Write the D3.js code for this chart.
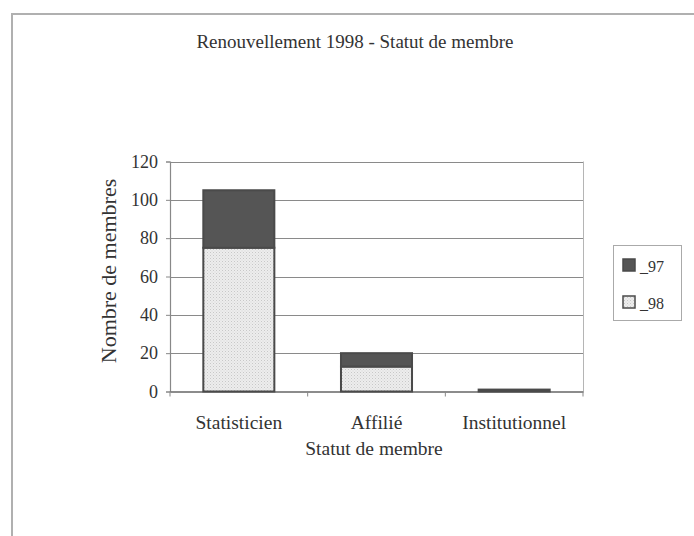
<!DOCTYPE html>
<html><head><meta charset="utf-8">
<script src="https://cdn.jsdelivr.net/npm/d3@7"></script>
<style>html,body{margin:0;padding:0;background:#fff;}svg{display:block;}</style>
</head><body>
<svg id="chart" width="694" height="536"></svg>
<script>
const categories = ["Statisticien", "Affilié", "Institutionnel"];
const seriesNames = ["_97", "_98"];
const values98 = [75, 13, 0];
const values97 = [30, 7, 1];
const yTicks = [0, 20, 40, 60, 80, 100, 120];
const titleText = "Renouvellement 1998 - Statut de membre";
const xTitle = "Statut de membre";
const yTitle = "Nombre de membres";

(function () {
const svg = d3.select("#chart");
const font = "'Liberation Serif','Times New Roman',serif";
const textCol = "#333";

const defs = svg.append("defs");
const pat = defs.append("pattern").attr("id", "dots").attr("patternUnits", "userSpaceOnUse")
  .attr("width", 3).attr("height", 3);
pat.append("rect").attr("width", 3).attr("height", 3).attr("fill", "#ededed");
pat.append("rect").attr("x", 0).attr("y", 0).attr("width", 1).attr("height", 1).attr("fill", "#c8c8c8");
pat.append("rect").attr("x", 1.5).attr("y", 1.5).attr("width", 1).attr("height", 1).attr("fill", "#d6d6d6");

svg.append("path").attr("d", "M12,540 L12,14 L700,14").attr("fill", "none")
  .attr("stroke", "#b0b0b0").attr("stroke-width", 2);

const pLeft = 170, pRight = 583, pTop = 161.5, pBottom = 391.5;
const x = d3.scaleBand().domain(categories).range([pLeft, pRight]).paddingInner(0.484).paddingOuter(0.242);
const y = d3.scaleLinear().domain([0, 120]).range([pBottom, pTop]);

svg.append("g").selectAll("line").data(yTicks.filter(d => d > 0)).join("line")
  .attr("x1", pLeft).attr("x2", pRight).attr("y1", d => Math.round(y(d)) + 0.5).attr("y2", d => Math.round(y(d)) + 0.5)
  .attr("stroke", "#8a8a8a").attr("stroke-width", 1.2);
svg.append("line").attr("x1", pRight + 0.5).attr("x2", pRight + 0.5).attr("y1", pTop).attr("y2", pBottom)
  .attr("stroke", "#b5b5b5").attr("stroke-width", 1);

const yAxis = svg.append("g").attr("transform", `translate(${pLeft},0)`)
  .call(d3.axisLeft(y).tickValues(yTicks).tickSize(4).tickPadding(8));
yAxis.attr("font-family", font);
yAxis.select(".domain").attr("stroke", "#888").attr("stroke-width", 1.2);
yAxis.selectAll(".tick line").attr("stroke", "#888");
yAxis.selectAll("text").attr("font-family", font).attr("font-size", 18).attr("fill", textCol);

const xAxis = svg.append("g").attr("transform", `translate(0,${pBottom})`)
  .call(d3.axisBottom(x).tickSize(0).tickPadding(24));
xAxis.attr("font-family", font);
xAxis.select(".domain").attr("stroke", "#666").attr("stroke-width", 1.5);
xAxis.selectAll("text").attr("font-family", font).attr("font-size", 19.5).attr("fill", textCol);
const step = x.step();
svg.append("g").selectAll("line").data(d3.range(categories.length + 1)).join("line")
  .attr("x1", i => pLeft + i * step).attr("x2", i => pLeft + i * step)
  .attr("y1", pBottom).attr("y2", pBottom + 5).attr("stroke", "#888");

const data = categories.map((c, i) => ({cat: c, v98: values98[i], v97: values97[i]}));
const g = svg.append("g");
data.forEach(d => {
  if (d.v98 > 0) {
    g.append("rect").attr("x", x(d.cat)).attr("width", x.bandwidth())
      .attr("y", y(d.v98)).attr("height", y(0) - y(d.v98))
      .attr("fill", "url(#dots)").attr("stroke", "#4a4a4a").attr("stroke-width", 2);
  }
  g.append("rect").attr("x", x(d.cat)).attr("width", x.bandwidth())
    .attr("y", y(d.v98 + d.v97)).attr("height", y(d.v98) - y(d.v98 + d.v97))
    .attr("fill", "#555").attr("stroke", "#4a4a4a").attr("stroke-width", 2);
});

svg.append("text").attr("x", 355).attr("y", 48).attr("text-anchor", "middle")
  .attr("font-family", font).attr("font-size", 19).attr("fill", "#333")
  .text(titleText);

svg.append("text").attr("x", 374).attr("y", 455).attr("text-anchor", "middle")
  .attr("font-family", font).attr("font-size", 19.5).attr("fill", textCol).text(xTitle);
svg.append("text").attr("transform", "translate(116,271) rotate(-90)").attr("text-anchor", "middle")
  .attr("font-family", font).attr("font-size", 22).attr("fill", textCol).text(yTitle);

const lg = svg.append("g");
lg.append("rect").attr("x", 613.5).attr("y", 245.5).attr("width", 68).attr("height", 75)
  .attr("fill", "#fff").attr("stroke", "#aaa").attr("stroke-width", 1);
const legFills = ["#555", "url(#dots)"];
seriesNames.forEach((s, i) => {
  const yy = 259 + i * 37;
  lg.append("rect").attr("x", 623).attr("y", yy).attr("width", 12).attr("height", 12)
    .attr("fill", legFills[i]).attr("stroke", "#4a4a4a").attr("stroke-width", 1.5);
  lg.append("text").attr("x", 640).attr("y", yy + 13).attr("font-family", font).attr("font-size", 16)
    .attr("fill", textCol).text(s);
});
})();
</script>
</body></html>
